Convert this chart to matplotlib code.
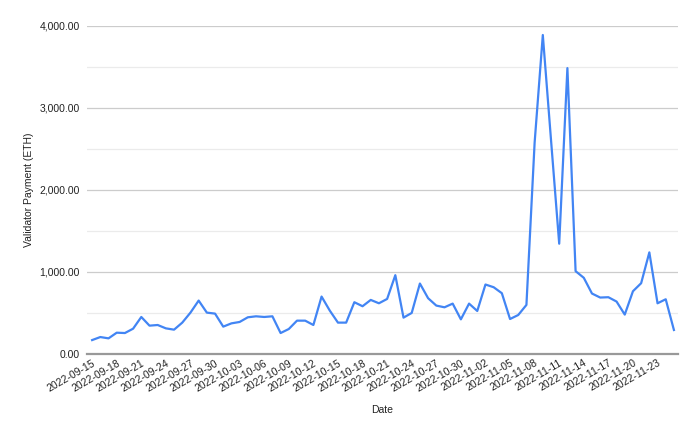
import numpy as np
import pandas as pd
import matplotlib
matplotlib.use("Agg")
import matplotlib.pyplot as plt
import matplotlib.dates as mdates
from matplotlib.ticker import FuncFormatter, MultipleLocator

plt.rcParams['font.family'] = ['Liberation Sans', 'DejaVu Sans']

start_date = "2022-09-15"
end_date = "2022-11-25"

# daily validator payment (ETH)
payment = [
    167, 204, 188, 257, 253, 306, 449, 343, 351, 310,
    294, 380, 502, 649, 502, 490, 331, 371, 388, 445,
    457, 449, 457, 253, 302, 404, 404, 351, 698, 527,
    380, 380, 629, 580, 657, 616, 669, 959, 441, 498,
    857, 678, 588, 567, 612, 420, 612, 522, 845, 812,
    739, 424, 473, 596, 2576, 3890, 2610, 1343, 3486, 1008,
    927, 735, 686, 690, 637, 478, 763, 861, 1237, 616,
    665, 290,
]

dates = pd.date_range(start_date, end_date, freq="D")
tick_dates = dates[::3]
tick_labels = [d.strftime("%Y-%m-%d") for d in tick_dates]

fig = plt.figure(figsize=(7, 4.33), dpi=100)
ax = fig.add_axes([0.1243, 0.183, 0.8443, 0.757])

ax.plot(dates, payment, color="#4285F4", lw=1.6)

ax.set_ylim(0, 4000)
ax.set_xlim(dates[0] - pd.Timedelta(hours=15), dates[-1] + pd.Timedelta(hours=12))

ax.yaxis.set_major_locator(MultipleLocator(1000))
ax.yaxis.set_minor_locator(MultipleLocator(500))
ax.yaxis.set_major_formatter(FuncFormatter(lambda v, p: f"{v:,.2f}"))
ax.grid(True, which="major", axis="y", color="#cccccc", lw=0.9)
ax.grid(True, which="minor", axis="y", color="#ebebeb", lw=0.9)
ax.set_axisbelow(True)

ax.set_xticks(tick_dates)
ax.set_xticklabels(tick_labels, rotation=30, ha="right", va="top", rotation_mode="anchor")

for s in ["top", "right", "left"]:
    ax.spines[s].set_visible(False)
ax.spines["bottom"].set_color("#999999")
ax.spines["bottom"].set_linewidth(1.6)
ax.spines["bottom"].set_zorder(3)

ax.tick_params(axis="both", which="both", length=0, labelsize=7.5, colors="#222222")
ax.tick_params(axis="y", pad=5)
ax.tick_params(axis="x", pad=3)

ax.set_xlabel("Date", fontsize=7.5, color="#222222")
ax.set_ylabel("Validator Payment (ETH)", fontsize=7.5, color="#222222")
ax.xaxis.set_label_coords(0.5, -0.155)
ax.yaxis.set_label_coords(-0.09, 0.5)

fig.savefig("out.png", dpi=100)
